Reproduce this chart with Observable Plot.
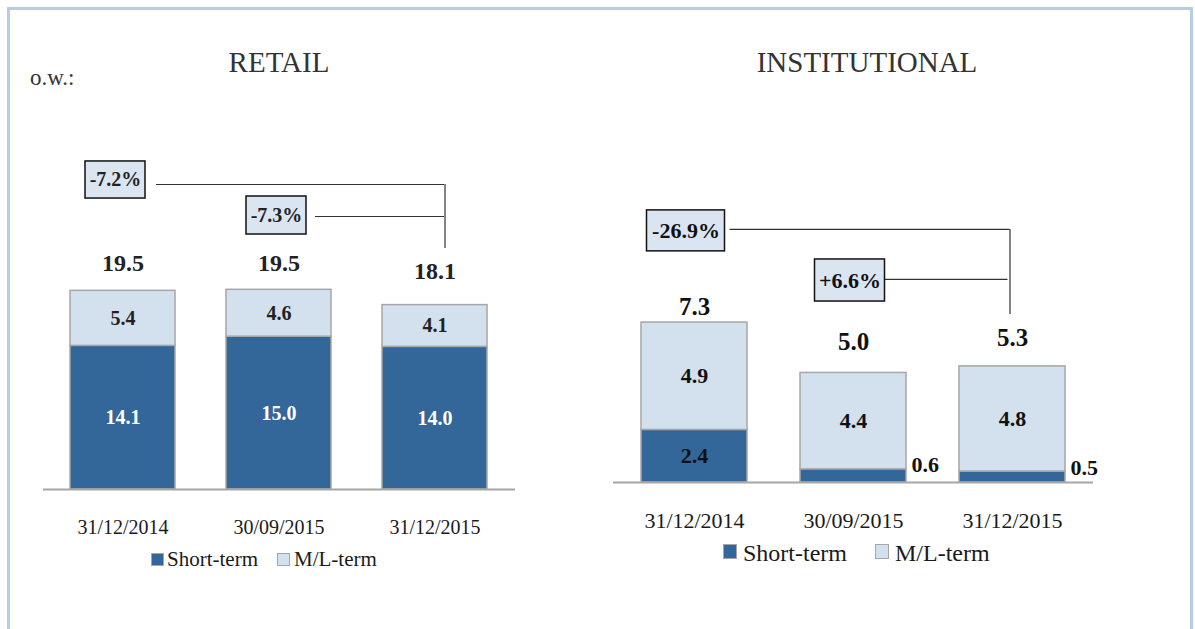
<!DOCTYPE html>
<html>
<head>
<meta charset="utf-8">
<script src="https://cdn.jsdelivr.net/npm/d3@7"></script>
<script src="https://cdn.jsdelivr.net/npm/@observablehq/plot@0.6"></script>
<style>
html, body { margin: 0; padding: 0; background: #fff; }
#root { position: relative; width: 1195px; height: 629px; overflow: hidden; background: #fff; font-family: "Liberation Serif", serif; color: #1a1a1a; }
.abs { position: absolute; white-space: nowrap; line-height: 1; }
.frame { position: absolute; left: 7px; top: 7px; width: 1180px; height: 700px; border: 3px solid #b7cde6; }
.title { font-size: 29px; color: #333; transform: translateX(-50%); }
.sw { position: absolute; box-sizing: border-box; border: 1px solid #a6a6a6; }
.panel { position: absolute; top: 0; }
</style>
</head>
<body>
<div id="root">
  <div class="frame"></div>
  <div class="abs" style="left:30px; top:66px; font-size:23px; color:#333;">o.w.:</div>
  <div class="abs title" style="left:279px; top:48px;">RETAIL</div>
  <div class="abs title" style="left:867px; top:48px;">INSTITUTIONAL</div>

  <div class="sw" style="left:151px; top:553px; width:13px; height:13px; background:#336699;"></div>
  <div class="abs" style="left:167px; top:549px; font-size:21px;">Short-term</div>
  <div class="sw" style="left:277px; top:553px; width:13px; height:13px; background:#d3e1ef;"></div>
  <div class="abs" style="left:294px; top:549px; font-size:21px;">M/L-term</div>

  <div class="sw" style="left:723px; top:544px; width:14px; height:15px; background:#336699;"></div>
  <div class="abs" style="left:743px; top:541px; font-size:24px;">Short-term</div>
  <div class="sw" style="left:875px; top:544px; width:14px; height:15px; background:#d3e1ef;"></div>
  <div class="abs" style="left:895px; top:541px; font-size:24px;">M/L-term</div>

  <div id="left" class="panel" style="left:0px;"></div>
  <div id="right" class="panel" style="left:580px;"></div>
</div>
<script>
// ---- data ----
const dates = ["31/12/2014", "30/09/2015", "31/12/2015"];
const terms = ["Short-term", "M/L-term"];
const retailShort = [14.1, 15.0, 14.0];
const retailML = [5.4, 4.6, 4.1];
const retailTotal = [19.5, 19.5, 18.1];
const instShort = [2.4, 0.6, 0.5];
const instML = [4.9, 4.4, 4.8];
const instTotal = [7.3, 5.0, 5.3];
const retailChanges = ["-7.2%", "-7.3%"];   // 31/12/2015 vs 31/12/2014, vs 30/09/2015
const instChanges = ["-26.9%", "+6.6%"];

// ---- styles ----
const DARK = "#336699", LIGHT = "#d3e1ef", EDGE = "#a6a6a6", BOXFILL = "#dbe5f1", INK = "#1a1a1a";
const FONT = "Liberation Serif, serif";
const fmt = d3.format(".1f");

function rows(short, ml) {
  return dates.flatMap((d, i) => [
    {date: d, term: terms[0], value: short[i], mid: short[i] / 2},
    {date: d, term: terms[1], value: ml[i], mid: short[i] + ml[i] / 2}
  ]);
}
function totals(tot) { return dates.map((d, i) => ({date: d, total: tot[i]})); }

function box(date, y1, y2, insetLeft, insetRight) {
  return Plot.barY([{date, y1, y2}], {x: "date", y1: "y1", y2: "y2", fill: BOXFILL, stroke: "#111", strokeWidth: 1.5, insetLeft, insetRight});
}

// ---- RETAIL ----
{
  const data = rows(retailShort, retailML);
  const tot = totals(retailTotal);
  const totDy = [-27.5, -27.5, -34];
  const plot = Plot.plot({
    width: 600, height: 629,
    marginLeft: 18, marginRight: 60, marginTop: 0, marginBottom: 140,
    style: {background: "transparent", fontFamily: FONT, fontSize: "20px", color: INK, overflow: "visible"},
    x: {domain: dates, padding: 0.325, tickSize: 0, tickPadding: 30, label: null},
    y: {domain: [0, 48], axis: null},
    color: {domain: terms, range: [DARK, LIGHT]},
    marks: [
      Plot.barY(data, {x: "date", y: "value", fill: "term", stroke: EDGE, strokeWidth: 1.5}),
      Plot.ruleY([0], {stroke: EDGE, strokeWidth: 2, insetLeft: 25, insetRight: 25}),
      Plot.text(data.filter(d => d.term === terms[0]), {x: "date", y: "mid", text: d => fmt(d.value), fill: "white", fontWeight: "bold", fontSize: 20}),
      Plot.text(data.filter(d => d.term === terms[1]), {x: "date", y: "mid", text: d => fmt(d.value), fill: "#222", fontWeight: "bold", fontSize: 20}),
      ...tot.map((t, i) => Plot.text([t], {x: "date", y: "total", text: d => fmt(d.total), dy: totDy[i], fill: "#222", fontWeight: "bold", fontSize: 24})),
      // bracket lines
      Plot.ruleY([29.94], {x1: () => dates[0], x2: () => dates[2], stroke: "#333", strokeWidth: 1.2, insetLeft: 86, insetRight: 43}),
      Plot.ruleY([26.8], {x1: () => dates[1], x2: () => dates[2], stroke: "#333", strokeWidth: 1.2, insetLeft: 89, insetRight: 43}),
      Plot.ruleX([dates[2]], {y1: 23.66, y2: 29.94, stroke: "#333", strokeWidth: 1.2, dx: 10}),
      // change boxes
      box(dates[0], 28.56, 32.2, 15, 30),
      box(dates[1], 25.03, 28.76, 20, 25),
      Plot.text([retailChanges[0]], {x: () => dates[0], y: 30.38, text: d => d, dx: -7.5, fill: "#222", fontWeight: "bold", fontSize: 20}),
      Plot.text([retailChanges[1]], {x: () => dates[1], y: 26.9, text: d => d, dx: -2.5, fill: "#222", fontWeight: "bold", fontSize: 20})
    ]
  });
  document.getElementById("left").appendChild(plot);
}

// ---- INSTITUTIONAL ----
{
  const data = rows(instShort, instML);
  const tot = totals(instTotal);
  const totDy = [-15.5, -31, -28.5];
  const shortInside = data.filter(d => d.term === terms[0] && d.value >= 1);
  const shortOutside = data.filter(d => d.term === terms[0] && d.value < 1);
  const plot = Plot.plot({
    width: 600, height: 629,
    marginLeft: 7, marginRight: 61, marginTop: 0, marginBottom: 147,
    style: {background: "transparent", fontFamily: FONT, fontSize: "22px", color: INK, overflow: "visible"},
    x: {domain: dates, padding: 0.335, tickSize: 0, tickPadding: 30, label: null},
    y: {domain: [0, 22], axis: null},
    color: {domain: terms, range: [DARK, LIGHT]},
    marks: [
      Plot.barY(data, {x: "date", y: "value", fill: "term", stroke: EDGE, strokeWidth: 1.5}),
      Plot.ruleY([0], {stroke: EDGE, strokeWidth: 2, insetLeft: 26, insetRight: 26}),
      Plot.text(data.filter(d => d.term === terms[1]), {x: "date", y: "mid", text: d => fmt(d.value), fill: "#111", fontWeight: "bold", fontSize: 22}),
      Plot.text(shortInside, {x: "date", y: "mid", text: d => fmt(d.value), fill: "#111", fontWeight: "bold", fontSize: 22}),
      Plot.text(shortOutside, {x: "date", y: "value", text: d => fmt(d.value), textAnchor: "start", dx: 58, dy: -4, fill: "#111", fontWeight: "bold", fontSize: 22}),
      ...tot.map((t, i) => Plot.text([t], {x: "date", y: "total", text: d => fmt(d.total), dy: totDy[i], fill: "#111", fontWeight: "bold", fontSize: 25})),
      // bracket lines
      Plot.ruleY([11.55], {x1: () => dates[0], x2: () => dates[2], stroke: "#333", strokeWidth: 1.2, insetLeft: 88.5, insetRight: 55.5}),
      Plot.ruleY([9.27], {x1: () => dates[1], x2: () => dates[2], stroke: "#333", strokeWidth: 1.2, insetLeft: 84.5, insetRight: 57.5}),
      Plot.ruleX([dates[2]], {y1: 7.67, y2: 11.55, stroke: "#333", strokeWidth: 1.2, dx: -2.5}),
      // change boxes
      box(dates[0], 10.55, 12.42, 5.5, 22.5),
      box(dates[1], 8.26, 10.18, 14.5, 21.5),
      Plot.text([instChanges[0]], {x: () => dates[0], y: 11.48, text: d => d, dx: -8.5, fill: "#111", fontWeight: "bold", fontSize: 22}),
      Plot.text([instChanges[1]], {x: () => dates[1], y: 9.22, text: d => d, dx: -3.5, fill: "#111", fontWeight: "bold", fontSize: 22})
    ]
  });
  document.getElementById("right").appendChild(plot);
}
</script>
</body>
</html>
